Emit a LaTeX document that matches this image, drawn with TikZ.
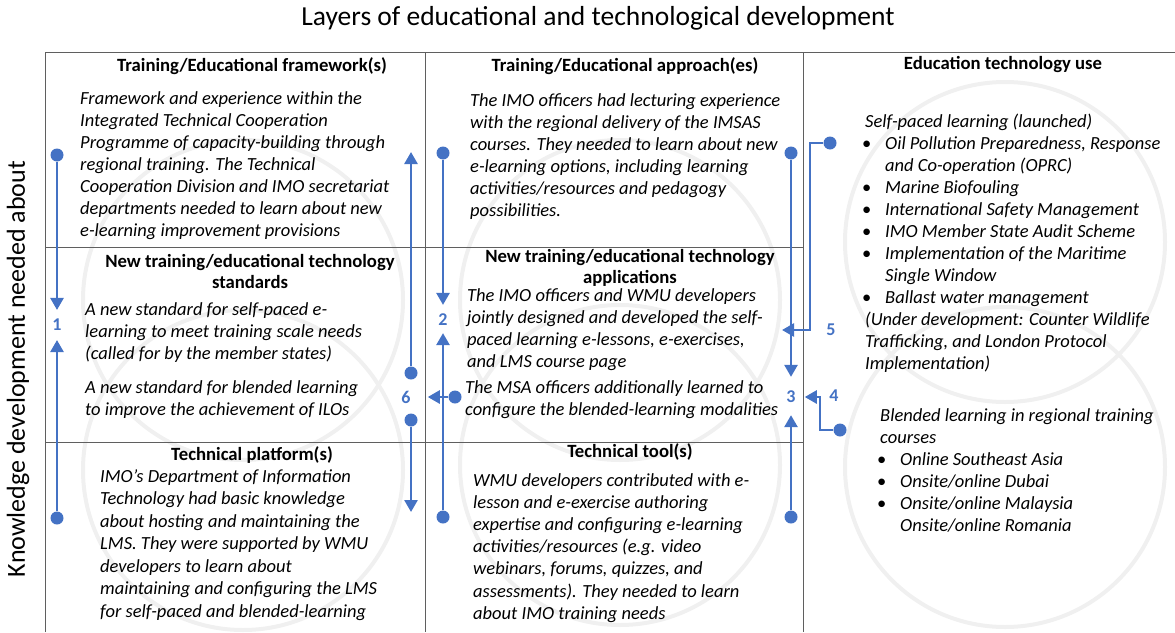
\documentclass[tikz,border=0pt]{standalone}
\usepackage{fontspec}
\setmainfont{Carlito}
\usetikzlibrary{arrows.meta,positioning}
\definecolor{flow}{HTML}{4472C4}
\definecolor{rule}{HTML}{5F5F5F}
\definecolor{ghost}{HTML}{F0F0F0}
\newcommand{\itm}{\makebox[20pt][l]{\hspace{-3pt}\upshape\textbullet}}

\begin{document}
\begin{tikzpicture}[x=1pt, y=-1pt,
  every node/.style={inner sep=0pt},
  grid/.style={draw=rule, line width=1pt},
  ring/.style={draw=ghost, line width=4pt},
  big/.style={font=\fontsize{26}{30}\selectfont},
  head/.style={font=\fontsize{18.7}{21}\selectfont\bfseries, align=center},
  body/.style={font=\fontsize{18.5}{22}\selectfont\itshape, align=left, anchor=north west},
  dot/.style={circle, fill=flow, minimum size=13pt},
  num/.style={text=flow, font=\fontsize{18}{22}\selectfont\bfseries, inner sep=1pt},
  flowline/.style={draw=flow, line width=2.6pt, -{Triangle[width=13pt,length=12pt]}}
]
  \useasboundingbox (0,0) rectangle (1175,632);

  % faint cycle marks behind the cells
  \foreach \cx/\cy in {243/300, 243/470, 620/300, 620/465, 1005/242, 1005/467}
    \draw[ring] (\cx,\cy) circle[radius=160];

  % grid
  \draw[grid] (45,632) -- (45,52) -- (1175,52);
  \draw[grid] (425,52) -- (425,632);
  \draw[grid] (803,52) -- (803,632);
  \draw[grid] (45,247) -- (803,247);
  \draw[grid] (45,442) -- (803,442);

  % axis titles
  \node[big, font=\fontsize{27.5}{30}\selectfont] (top) at (598,18) {Layers of educational and technological development};
  \node[big, rotate=90] (side) at (18,369) {Knowledge development needed about};

  % cell headers
  \node[head] (h11) at (252,66) {Training/Educational framework(s)};
  \node[head] (h12) at (625,66) {Training/Educational approach(es)};
  \node[head] (h13) at (1003,65) {Education technology use};
  \node[head] (h21) at (250,271) {New training/educational technology\\standards};
  \node[head] (h22) at (630,268) {New training/educational technology\\applications};
  \node[head] (h31) at (252,455) {Technical platform(s)};
  \node[head] (h32) at (630,452) {Technical tool(s)};

  % row 1
  \node[body] (b11) at (80,91) {Framework and experience within the\\
    Integrated Technical Cooperation\\
    Programme of capacity-building through\\
    regional training. The Technical\\
    Cooperation Division and IMO secretariat\\
    departments needed to learn about new\\
    e-learning improvement provisions};
  \node[body] (b12) at (470,93) {The IMO officers had lecturing experience\\
    with the regional delivery of the IMSAS\\
    courses. They needed to learn about new\\
    e-learning options, including learning\\
    activities/resources and pedagogy\\
    possibilities.};

  % right column
  \node[body] (b13) at (865,114) {Self-paced learning (launched)\\
    \itm Oil Pollution Preparedness, Response\\
    \hspace*{20pt}and Co-operation (OPRC)\\
    \itm Marine Biofouling\\
    \itm International Safety Management\\
    \itm IMO Member State Audit Scheme\\
    \itm Implementation of the Maritime\\
    \hspace*{20pt}Single Window\\
    \itm Ballast water management\\
    (Under development: Counter Wildlife\\
    Trafficking, and London Protocol\\
    Implementation)};
  \node[body] (b14) at (880,408) {Blended learning in regional training\\
    courses\\
    \itm Online Southeast Asia\\
    \itm Onsite/online Dubai\\
    \itm Onsite/online Malaysia\\
    \hspace*{20pt}Onsite/online Romania};

  % row 2
  \node[body] (b21) at (85,302) {A new standard for self-paced e-\\
    learning to meet training scale needs\\
    (called for by the member states)};
  \node[body] (b21b) at (85,380) {A new standard for blended learning\\
    to improve the achievement of ILOs};
  \node[body] (b22) at (467,288) {The IMO officers and WMU developers\\
    jointly designed and developed the self-\\
    paced learning e-lessons, e-exercises,\\
    and LMS course page};
  \node[body] (b22b) at (465,380) {The MSA officers additionally learned to\\
    configure the blended-learning modalities};

  % row 3
  \node[body, font=\fontsize{18.5}{22.5}\selectfont\itshape] (b31) at (100,469) {IMO’s Department of Information\\
    Technology had basic knowledge\\
    about hosting and maintaining the\\
    LMS. They were supported by WMU\\
    developers to learn about\\
    maintaining and configuring the LMS\\
    for self-paced and blended-learning};
  \node[body, font=\fontsize{18.5}{22.2}\selectfont\itshape] (b32) at (473,473) {WMU developers contributed with e-\\
    lesson and e-exercise authoring\\
    expertise and configuring e-learning\\
    activities/resources (e.g. video\\
    webinars, forums, quizzes, and\\
    assessments). They needed to learn\\
    about IMO training needs};

  % flow 1
  \node[dot] (d1t) at (57,155) {};
  \node[dot] (d1b) at (57,518) {};
  \node[num] (n1) at (57,325) {1};
  \draw[flowline, shorten >=8pt] (d1t) -- (n1);
  \draw[flowline, shorten >=8pt] (d1b) -- (n1);

  % flow 2
  \node[dot] (d2t) at (443,153) {};
  \node[dot] (d2b) at (443,517) {};
  \node[num] (n2) at (443,320) {2};
  \draw[flowline, shorten >=8pt] (d2t) -- (n2);
  \draw[flowline, shorten >=6pt] (d2b) -- (n2);

  % flow 3
  \node[dot] (d3t) at (791,153) {};
  \node[dot] (d3b) at (791,517) {};
  \node[num] (n3) at (791,397) {3};
  \draw[flowline, shorten >=13pt] (d3t) -- (n3);
  \draw[flowline, shorten >=11pt] (d3b) -- (n3);

  % flow 4
  \node[dot] (d4) at (840,430) {};
  \node[num] (n4) at (834,396) {4};
  \coordinate (k4) at (820,397);
  \draw[flowline, shorten >=8pt] (d4) -| (k4) -- (n3);

  % flow 5
  \node[dot] (d5) at (830,143) {};
  \node[num] (n5) at (831,330) {5};
  \coordinate (k5) at (810,330);
  \coordinate (t5) at (782,330);
  \draw[flowline] (d5) -| (k5) -- (t5);

  % flow 6
  \node[dot] (d6a) at (411,373) {};
  \node[dot] (d6b) at (411,420) {};
  \node[dot] (d6c) at (455,397) {};
  \node[num] (n6) at (406,397) {6};
  \coordinate (t6a) at (411,152);
  \coordinate (t6b) at (411,512);
  \draw[flowline] (d6a) -- (t6a);
  \draw[flowline] (d6b) -- (t6b);
  \draw[flowline, shorten >=16pt] (d6c) -- (n6);
\end{tikzpicture}
\end{document}
